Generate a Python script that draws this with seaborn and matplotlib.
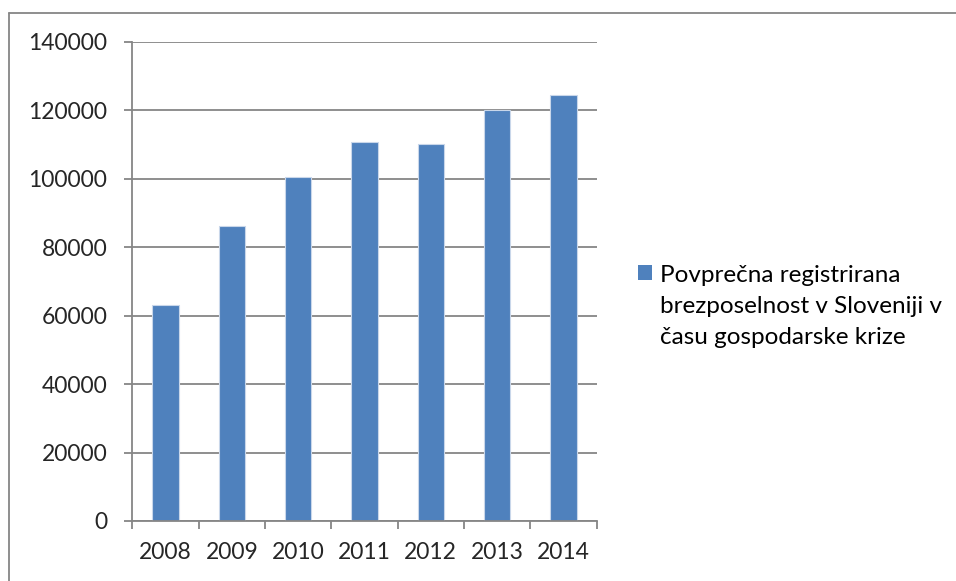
import matplotlib
matplotlib.use("Agg")
import matplotlib.pyplot as plt
import seaborn as sns
import pandas as pd
from matplotlib.patches import Rectangle, Patch
from matplotlib.lines import Line2D
from matplotlib.legend_handler import HandlerPatch

years = ["2008", "2009", "2010", "2011", "2012", "2013", "2014"]
values = [63000, 86200, 100500, 110700, 110200, 120000, 124500]
series_label = "Povprečna registrirana\nbrezposelnost v Sloveniji v\nčasu gospodarske krize"
yticks = [0, 20000, 40000, 60000, 80000, 100000, 120000, 140000]

sns.set_style("white")
plt.rcParams["font.family"] = ["Lato", "DejaVu Sans"]

df = pd.DataFrame({"year": years, "value": values})

fig = plt.figure(figsize=(9.56, 5.81), dpi=100)
ax = fig.add_axes([0.1385, 0.1033, 0.4855, 0.8247])

color = "#4F81BD"
sns.barplot(data=df, x="year", y="value", color=color, width=0.4,
            edgecolor="#c9d7ea", linewidth=0.8, ax=ax, saturation=1)

ax.set_ylim(0, 140000)
ax.set_xlim(-0.5, 6.5)
ax.set_yticks(yticks)
ax.set_yticklabels([str(v) for v in yticks])
ax.yaxis.grid(True, color="#868686", linewidth=1.3)
ax.set_axisbelow(True)
ax.set_xlabel("")
ax.set_ylabel("")

for s in ["top", "right"]:
    ax.spines[s].set_visible(False)
for s in ["left", "bottom"]:
    ax.spines[s].set_color("#868686")
    ax.spines[s].set_linewidth(1.3)

ax.tick_params(axis="y", length=6, width=1.3, color="#868686", direction="out",
               labelsize=16.5, pad=12, left=True)
ax.set_xticks([i for i in range(7)])
ax.tick_params(axis="x", length=0, labelsize=16.5, pad=15)
ax.set_xticks([i - 0.5 for i in range(8)], minor=True)
ax.tick_params(axis="x", which="minor", length=6, width=1.3, color="#868686",
               direction="out", bottom=True)


def top_square(legend, orig_handle, xdescent, ydescent, width, height, fontsize):
    side = width
    yc = height / 2.0 - ydescent + 24.5
    return Rectangle((-xdescent, yc - side / 2.0), side, side)


handle = Patch(facecolor=color, edgecolor="none")
leg = fig.legend([handle], [series_label], loc="center left",
                 bbox_to_anchor=(0.667, 0.472), frameon=False,
                 fontsize=17.5, handlelength=0.6, handleheight=0.6,
                 handletextpad=0.33, borderaxespad=0, borderpad=0,
                 handler_map={Patch: HandlerPatch(patch_func=top_square)})
for t in leg.get_texts():
    t.set_linespacing(1.58)
    t.set_color("#000000")

# outer chart frame (top and left edges visible)
fig.add_artist(Line2D([9 / 956, 9 / 956], [0, 1 - 13 / 581], transform=fig.transFigure,
                      color="#868686", linewidth=1.3))
fig.add_artist(Line2D([9 / 956, 1], [1 - 13 / 581, 1 - 13 / 581], transform=fig.transFigure,
                      color="#868686", linewidth=1.3))

fig.savefig("out.png", dpi=100)
